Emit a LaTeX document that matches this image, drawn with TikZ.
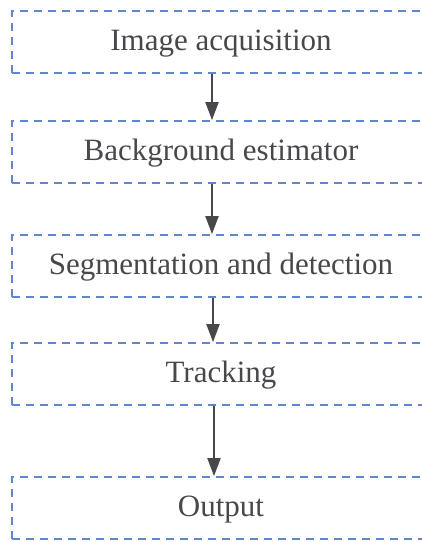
\documentclass[tikz,border=0pt]{standalone}
\usepackage{fontspec}
\setmainfont{Liberation Serif}
\usetikzlibrary{arrows.meta}
\definecolor{dashblue}{RGB}{95,135,205}
\definecolor{txtgray}{RGB}{72,72,76}
\tikzset{stage/.style={draw=dashblue,line width=1.8pt,dash pattern=on 8pt off 6pt,minimum width=418pt,minimum height=62pt,inner sep=0pt,text height=20pt,text depth=4pt,text=txtgray,font=\fontsize{31}{37}\selectfont},
flow/.style={-{Triangle[width=13pt,length=18pt]},line width=2pt,draw=txtgray}}
\begin{document}
\begin{tikzpicture}[x=1pt,y=-1pt]
\clip(0,0)rectangle(422,542);
\node[stage](acq)at(221,42){Image acquisition};\node[stage](bg)at(221,152){Background estimator};
\node[stage](seg)at(221,266){Segmentation and detection};\node[stage](trk)at(221,374){Tracking};
\node[stage](out)at(221,508){Output};
\draw[flow]([xshift=-9pt]acq.south)--([xshift=-9pt]bg.north);\draw[flow]([xshift=-9pt]bg.south)--([xshift=-9pt]seg.north);
\draw[flow]([xshift=-8pt]seg.south)--([xshift=-8pt]trk.north);\draw[flow]([xshift=-7pt]trk.south)--([xshift=-7pt]out.north);
\end{tikzpicture}
\end{document}
